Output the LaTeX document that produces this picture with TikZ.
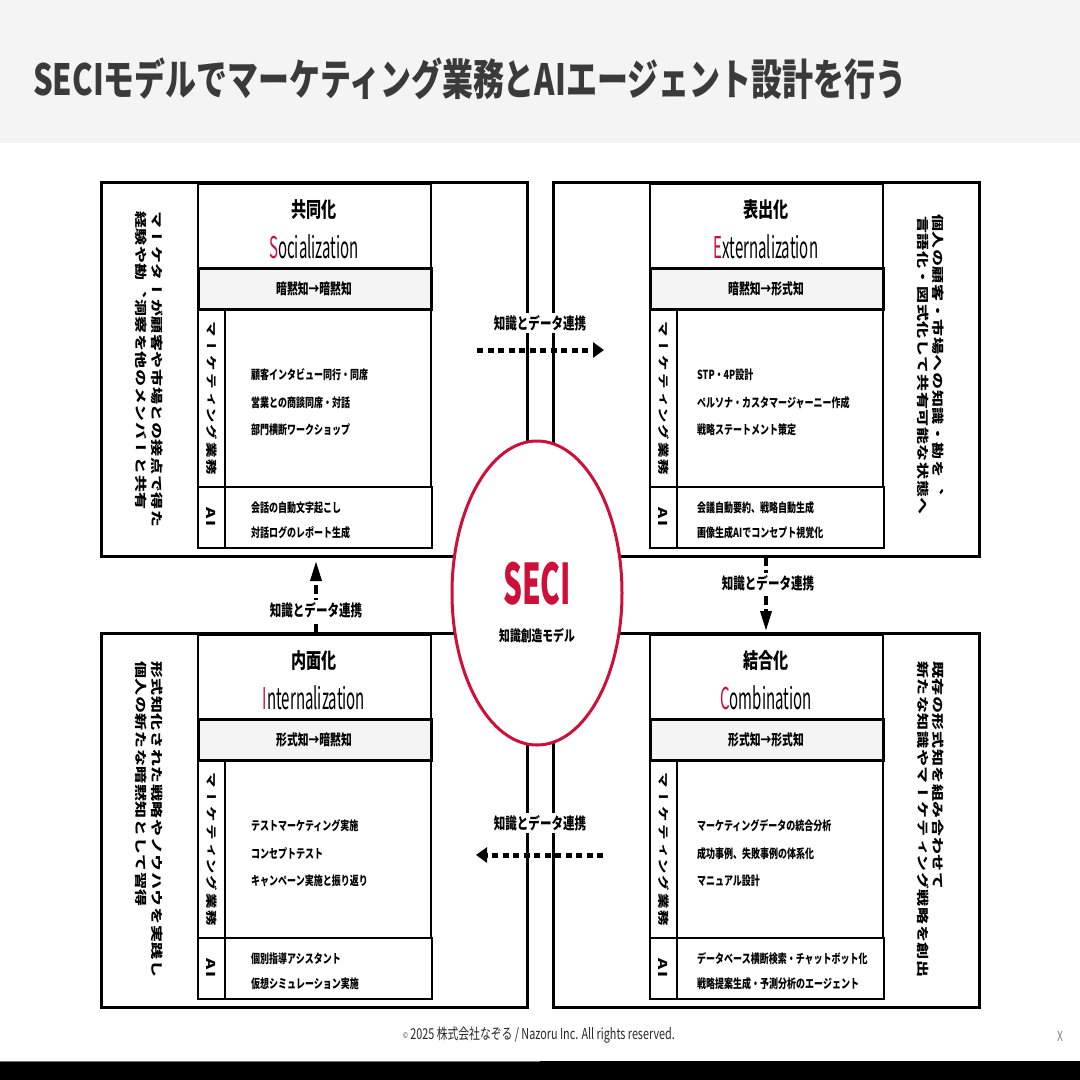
\documentclass[tikz,border=0pt]{standalone}
\usepackage{fontspec}
\usepackage{graphicx}
\usetikzlibrary{arrows.meta,shapes.geometric}
\setmainfont{Noto Sans CJK JP}[FakeStretch=0.72]
\newfontfamily\enfont{Noto Sans CJK JP}[FakeStretch=0.5]
\newfontfamily\secifont{Noto Sans CJK JP}[FakeStretch=0.53]
\newfontfamily\vfontA{Noto Sans CJK JP}[Vertical=RotatedGlyphs,LetterSpace=3.5]
\newfontfamily\vfontB{Noto Sans CJK JP}[Vertical=RotatedGlyphs,LetterSpace=11.6]
\definecolor{seci}{RGB}{204,16,58}
\definecolor{bandgray}{RGB}{244,244,244}
\definecolor{titlegray}{RGB}{58,58,58}
\newcommand{\vtxt}[2]{\scalebox{0.72}[1]{\rotatebox{-90}{#1#2}}}
\newcommand{\descfont}{\vfontA\bfseries\fontsize{17}{17}\selectfont}
\newcommand{\labfont}{\vfontB\bfseries\fontsize{15.5}{15.5}\selectfont}
\tikzset{
  outerbox/.style={draw=black,line width=3pt},
  titlebox/.style={draw=black,line width=2.5pt,fill=white},
  bandbox/.style={draw=black,line width=3pt,fill=bandgray},
  labcol/.style={draw=black,line width=2.5pt},
  contbox/.style={draw=black,line width=1.2pt},
  jtitle/.style={inner sep=0,font=\bfseries\fontsize{21}{21}\selectfont},
  etitle/.style={inner sep=0,font=\enfont\fontsize{30}{30}\selectfont},
  bandtxt/.style={inner sep=0,font=\bfseries\fontsize{15}{15}\selectfont},
  itemtxt/.style={anchor=west,inner sep=0,font=\bfseries\fontsize{12.5}{12.5}\selectfont},
  vnode/.style={anchor=north,inner sep=0},
  hconn/.style={line width=5pt,dash pattern=on 6pt off 4.5pt,-{Triangle[length=11pt,width=15pt]}},
  vconn/.style={line width=3.5pt,dash pattern=on 9pt off 4pt,-{Triangle[length=20pt,width=11pt]}},
  connlabel/.style={fill=white,inner sep=2pt,font=\bfseries\fontsize{16}{16}\selectfont}
}
% #1 prefix #2 ox #3 oy #4 jp title #5 red letter #6 rest #7 band
\newcommand{\quadbase}[7]{%
  \begin{scope}[shift={(#2,#3)}]
    \draw[outerbox] (0,0) rectangle (426,374);
    \draw[titlebox] (97,2) rectangle (330,86);
    \draw[bandbox] (97,86) rectangle (330,127);
    \draw[contbox] (124,128) rectangle (330,305);
    \draw[contbox] (124,305) rectangle (331,366);
    \draw[labcol] (97,127) rectangle (124,305);
    \draw[labcol] (97,305) rectangle (124,366);
    \node[jtitle] (#1-jp) at (213,28) {#4};
    \node[etitle] (#1-en) at (213,65) {\textcolor{seci}{#5}#6};
    \node[bandtxt] (#1-band) at (213,107) {#7};
    \node[vnode] (#1-mk) at (110.5,139) {\vtxt{\labfont}{マーケティング業務}};
    \node[inner sep=0] (#1-ai) at (110.5,335) {\vtxt{\vfontB\bfseries\fontsize{17}{17}\selectfont}{AI}};
  \end{scope}}
% #1 prefix #2 ox #3 oy #4 item x #5-#7 items #8-#9 ai items
\newcommand{\quaditems}[9]{%
  \begin{scope}[shift={(#2,#3)}]
    \node[itemtxt] (#1-i1) at (#4,193) {#5};
    \node[itemtxt] (#1-i2) at (#4,221) {#6};
    \node[itemtxt] (#1-i3) at (#4,248) {#7};
    \node[itemtxt] (#1-a1) at (#4,326) {#8};
    \node[itemtxt] (#1-a2) at (#4,351) {#9};
  \end{scope}}
\begin{document}
\begin{tikzpicture}[x=1pt,y=-1pt]
\useasboundingbox (0,0) rectangle (1080,1080);
\fill[bandgray] (0,0) rectangle (1080,143);
\node[anchor=west,inner sep=0,text=titlegray,font=\bfseries\fontsize{43}{43}\selectfont] (title) at (33,79) {SECIモデルでマーケティング業務とAIエージェント設計を行う};

\quadbase{tl}{101}{182}{共同化}{S}{ocialization}{暗黙知→暗黙知}
\quaditems{tl}{101}{182}{150}{顧客インタビュー同行・同席}{営業との商談同席・対話}{部門横断ワークショップ}{会話の自動文字起こし}{対話ログのレポート生成}
\quadbase{tr}{553}{182}{表出化}{E}{xternalization}{暗黙知→形式知}
\quaditems{tr}{553}{182}{144}{STP・4P設計}{ペルソナ・カスタマージャーニー作成}{戦略ステートメント策定}{会議自動要約、戦略自動生成}{画像生成AIでコンセプト視覚化}
\quadbase{bl}{101}{633}{内面化}{I}{nternalization}{形式知→暗黙知}
\quaditems{bl}{101}{633}{150}{テストマーケティング実施}{コンセプトテスト}{キャンペーン実施と振り返り}{個別指導アシスタント}{仮想シミュレーション実施}
\quadbase{br}{553}{633}{結合化}{C}{ombination}{形式知→形式知}
\quaditems{br}{553}{633}{144}{マーケティングデータの統合分析}{成功事例、失敗事例の体系化}{マニュアル設計}{データベース横断検索・チャットボット化}{戦略提案生成・予測分析のエージェント}

% descriptions
\node[vnode] (tl-d1) at (157,211) {\vtxt{\descfont}{マーケターが顧客や市場との接点で得た}};
\node[vnode] (tl-d2) at (141,211) {\vtxt{\descfont}{経験や勘、洞察を他のメンバーと共有}};
\node[vnode] (tr-d1) at (938,214) {\vtxt{\descfont}{個人の顧客・市場への知識・勘を、}};
\node[vnode] (tr-d2) at (923,216) {\vtxt{\descfont}{言語化・図式化して共有可能な状態へ}};
\node[vnode] (bl-d1) at (157,661) {\vtxt{\descfont}{形式知化された戦略やノウハウを実践し}};
\node[vnode] (bl-d2) at (141,661) {\vtxt{\descfont}{個人の新たな暗黙知として習得}};
\node[vnode] (br-d1) at (938,661) {\vtxt{\descfont}{既存の形式知を組み合わせて}};
\node[vnode] (br-d2) at (923,661) {\vtxt{\descfont}{新たな知識やマーケティング戦略を創出}};

% centre ellipse
\node[ellipse,draw=seci,line width=3pt,fill=white,minimum width=170pt,minimum height=304pt,inner sep=0] (ell) at (537,593) {};
\node[inner sep=0,text=seci,font=\secifont\bfseries\fontsize{56}{56}\selectfont] (secit) at (537,584) {SECI};
\node[inner sep=0,font=\bfseries\fontsize{15}{15}\selectfont] (secisub) at (537,636) {知識創造モデル};

% connectors
\coordinate (c1s) at (477,350); \coordinate (c1e) at (604,350);
\coordinate (c2s) at (766,557); \coordinate (c2e) at (766,631);
\coordinate (c3s) at (603,855); \coordinate (c3e) at (476,855);
\coordinate (c4s) at (316,633); \coordinate (c4e) at (316,561);
\draw[hconn] (c1s) -- (c1e);
\draw[vconn] (c2s) -- (c2e);
\draw[hconn] (c3s) -- (c3e);
\draw[vconn] (c4s) -- (c4e);
\node[connlabel] (l1) at (540,323) {知識とデータ連携};
\node[connlabel] (l2) at (768,583) {知識とデータ連携};
\node[connlabel] (l3) at (540,823) {知識とデータ連携};
\node[connlabel] (l4) at (316,610) {知識とデータ連携};

% footer
\node[inner sep=0,text=black!85,font=\fontsize{15}{15}\selectfont] (foot) at (539,1035) {{\fontsize{8}{8}\selectfont\raisebox{1pt}{©}} 2025 株式会社なぞる / Nazoru Inc. All rights reserved.};
\node[inner sep=0,text=black!50,font=\fontsize{14}{14}\selectfont] (xmark) at (1060,1036) {X};
\fill[black] (0,1061) rectangle (1080,1080);
\draw[black!55,line width=1.5pt] (0,1061.5) -- (540,1061.5);
\end{tikzpicture}
\end{document}
